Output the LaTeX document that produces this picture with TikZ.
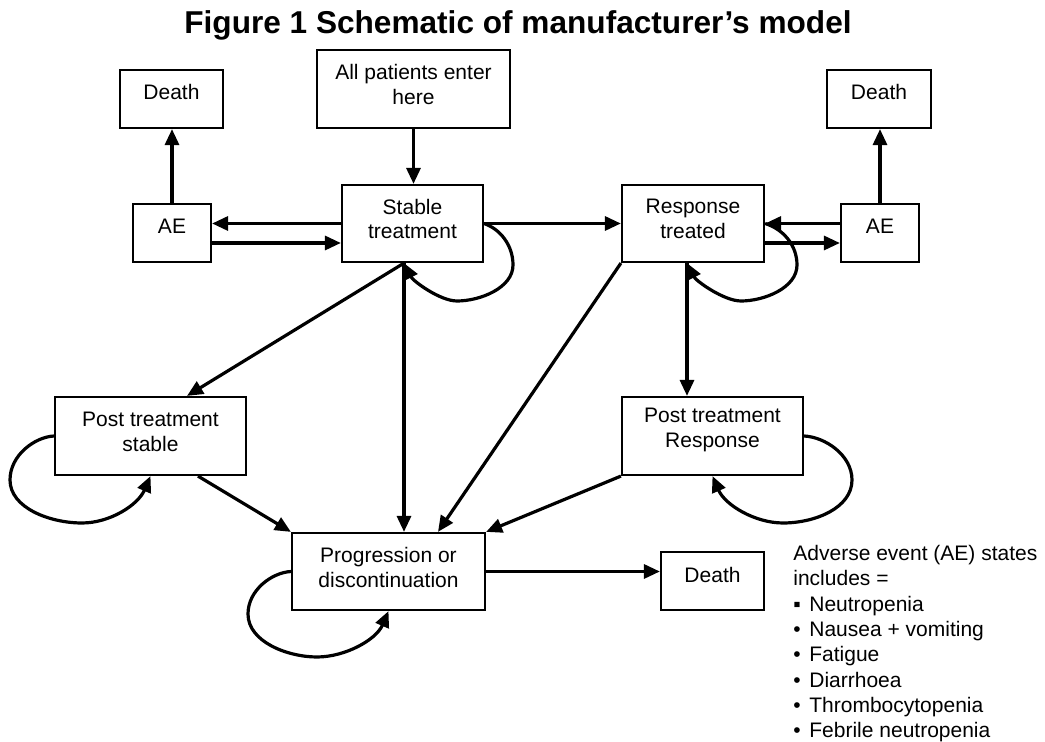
\documentclass[tikz,border=0pt]{standalone}
\usepackage{fontspec}
\setmainfont{Liberation Sans}
\usetikzlibrary{arrows.meta}

\def\px{0.5pt}

\begin{document}
\begin{tikzpicture}[x=0.5pt, y=0.5pt]
        \tikzstyle{every node} = [font=\fontsize{10.5}{12.5}\selectfont]
        \tikzstyle{stare}      = [draw, line width=1.1pt, inner sep=0pt, minimum height=58*\px]
        \tikzstyle{inalta}     = [minimum height=78*\px]
        \tikzstyle{eticheta}   = [align=center, inner sep=0pt, yshift=3.25pt]
        \tikzstyle{doirand}    = [align=center, inner sep=0pt, yshift=2.25pt]
        \tikzstyle{sageata}    = [line width=1.6pt, -{Triangle[length=8pt, width=7pt]}]

        \useasboundingbox (0,0) rectangle (1045,-742);

        \node[font=\fontsize{15.8}{19}\selectfont\bfseries, anchor=base] (titlu) at (518,-34)
            {Figure 1 Schematic of manufacturer’s model};

        \node[stare, inalta, minimum width=193*\px, label={[doirand]center:{All patients enter\\here}}] (intrare) at (413.5,-89) {};
        \node[stare, minimum width=103*\px, label={[eticheta]center:Death}] (moarteA) at (171.5,-99) {};
        \node[stare, minimum width=78*\px, label={[eticheta]center:AE}] (efectA) at (172,-233) {};
        \node[stare, minimum height=77*\px, minimum width=141*\px, label={[doirand]center:{Stable\\treatment}}] (stabil) at (412.5,-223.5) {};
        \node[stare, minimum height=77*\px, minimum width=142*\px, label={[doirand]center:{Response\\treated}}] (raspuns) at (693,-223.5) {};
        \node[stare, minimum width=78*\px, label={[eticheta]center:AE}] (efectB) at (880,-233) {};
        \node[stare, minimum width=104*\px, label={[eticheta]center:Death}] (moarteB) at (879,-99) {};
        \node[stare, inalta, minimum width=191*\px, label={[doirand]center:{Post treatment\\stable}}] (postStabil) at (150.5,-436) {};
        \node[stare, inalta, minimum width=181*\px, label={[eticheta]center:{Post treatment\\Response}}] (postRaspuns) at (712.5,-436) {};
        \node[stare, minimum height=77*\px, minimum width=193*\px, label={[doirand]center:{Progression or\\discontinuation}}] (progres) at (388.5,-571.5) {};
        \node[stare, minimum width=103*\px, label={[eticheta]center:Death}] (moarteC) at (712.5,-581) {};

        \node[anchor=north west, align=left, inner sep=0pt, font=\fontsize{10.5}{12.65}\selectfont] (legenda) at (793,-545)
            {Adverse event (AE) states\\includes =\\
             \makebox[8pt][l]{▪}Neutropenia\\
             \makebox[8pt][l]{•}Nausea + vomiting\\
             \makebox[8pt][l]{•}Fatigue\\
             \makebox[8pt][l]{•}Diarrhoea\\
             \makebox[8pt][l]{•}Thrombocytopenia\\
             \makebox[8pt][l]{•}Febrile neutropenia};

        % Punctele de plecare ale sagetilor.
        \coordinate (sJos)   at ([xshift=-4.25pt]stabil.south);
        \coordinate (rJos)   at ([xshift=-3pt]raspuns.south);
        \coordinate (psSus)  at ([xshift=18.25pt]postStabil.north);
        \coordinate (prSus)  at ([xshift=24.75pt]progres.north);
        \coordinate (aeJos)  at ([yshift=-5pt]efectA.east);
        \coordinate (aeJosB) at ([yshift=-5pt]efectB.west);

        \draw[sageata] (intrare.south) -- (intrare.south |- stabil.north);
        \draw[sageata] (efectA.north) -- (efectA.north |- moarteA.south);
        \draw[sageata] (efectB.north) -- (efectB.north |- moarteB.south);
        \draw[sageata] (stabil.west) -- (stabil.west -| efectA.east);
        \draw[sageata] (aeJos) -- (aeJos -| stabil.west);
        \draw[sageata] (stabil.east) -- (raspuns.west);
        \draw[sageata] (raspuns.east -| efectB.west) -- (raspuns.east);
        \draw[sageata] (aeJosB -| raspuns.east) -- (aeJosB);
        \draw[sageata] (sJos) -- (psSus);
        \draw[sageata] (sJos) -- (sJos |- progres.north);
        \draw[sageata] (raspuns.south west) -- (prSus);
        \draw[sageata] (rJos) -- (rJos |- postRaspuns.north);
        \draw[sageata] ([xshift=23.75pt]postStabil.south) -- (progres.north west);
        \draw[sageata] (postRaspuns.south west) -- (progres.north east);
        \draw[sageata] (progres.east) -- (progres.east -| moarteC.west);

        % Buclele.
        \draw[sageata] (stabil.east) .. controls (500,-229) and (513,-245) .. (513,-265)
            .. controls (513,-288) and (480,-301) .. (457,-301)
            .. controls (440,-301) and (413,-281) .. (sJos);
        \draw[sageata] (raspuns.east) .. controls (783,-229) and (797,-245) .. (797,-265)
            .. controls (797,-288) and (764,-301) .. (741,-301)
            .. controls (724,-301) and (696,-281) .. (rJos);
        \draw[sageata] (postStabil.west) .. controls (35,-437) and (10,-455) .. (10,-480)
            .. controls (10,-508) and (50,-523) .. (82,-523)
            .. controls (110,-523) and (138,-505) .. (postStabil.south);
        \draw[sageata] (postRaspuns.east) .. controls (825,-437) and (852,-455) .. (852,-480)
            .. controls (852,-508) and (815,-523) .. (783,-523)
            .. controls (755,-523) and (725,-505) .. (postRaspuns.south);
        \draw[sageata] (progres.west) .. controls (272,-572.5) and (248,-590) .. (248,-614)
            .. controls (248,-642) and (288,-657) .. (317,-657)
            .. controls (345,-657) and (376,-640) .. (progres.south);
    \end{tikzpicture}
\end{document}
